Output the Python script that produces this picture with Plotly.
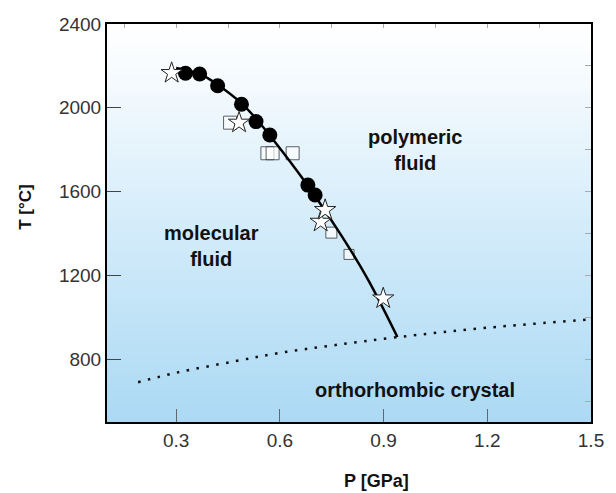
import plotly.graph_objects as go

# --- data ---
curve_P = [0.30, 0.37, 0.42, 0.49, 0.53, 0.57, 0.68, 0.78, 0.855, 0.94]
curve_T = [2190, 2160, 2110, 2020, 1950, 1870, 1630, 1385, 1180, 906]

boundary_P = [0.19, 0.30, 0.47, 0.60, 0.75, 0.94, 1.20, 1.50]
boundary_T = [690, 735, 790, 830, 865, 905, 950, 990]

circles_P = [0.327, 0.368, 0.420, 0.489, 0.531, 0.571, 0.681, 0.702]
circles_T = [2165, 2161, 2105, 2017, 1934, 1870, 1631, 1584]

squares_P = [0.456, 0.564, 0.579, 0.637, 0.749, 0.800]
squares_T = [1929, 1783, 1783, 1783, 1404, 1300]
squares_S = [13, 13, 13, 13, 11, 10]

stars_P = [0.287, 0.482, 0.718, 0.731, 0.899]
stars_T = [2166, 1929, 1456, 1512, 1090]

x_ticks = [0.3, 0.6, 0.9, 1.2, 1.5]
y_ticks = [800, 1200, 1600, 2000, 2400]
x_range = [0.1, 1.5]
y_range = [500, 2400]

FONT = "Liberation Sans"

fig = go.Figure()

# background gradient
fig.add_trace(go.Heatmap(
    x=x_range, y=y_range, z=[[0, 0], [1, 1]], zsmooth="best",
    colorscale=[[0, "#abd9f4"], [0.5, "#d4ecfa"], [0.88, "#f7fbfe"], [1, "#ffffff"]],
    showscale=False, hoverinfo="skip"))

fig.add_trace(go.Scatter(x=boundary_P, y=boundary_T, mode="lines",
                         line=dict(color="#111", width=2.5, dash="2.5px,7.5px", shape="spline"),
                         hoverinfo="skip"))
fig.add_trace(go.Scatter(x=squares_P, y=squares_T, mode="markers",
                         marker=dict(symbol="square", size=squares_S, color="white",
                                     line=dict(color="#222", width=1))))
fig.add_trace(go.Scatter(x=curve_P, y=curve_T, mode="lines",
                         line=dict(color="black", width=2.5, shape="spline")))
fig.add_trace(go.Scatter(x=circles_P, y=circles_T, mode="markers",
                         marker=dict(symbol="circle", size=15, color="black")))
fig.add_trace(go.Scatter(x=stars_P, y=stars_T, mode="markers",
                         marker=dict(symbol="star", size=16, color="white",
                                     line=dict(color="#222", width=1))))

# minor ticks on top and right
fig.add_trace(go.Scatter(x=[None], y=[None], xaxis="x2", yaxis="y2", showlegend=False))

ann_font = dict(family=FONT, size=20, color="#111")
annotations = [
    dict(x=0.99, y=1798, text="<b>polymeric<br>fluid</b>", showarrow=False, font=ann_font,
         xanchor="center", yanchor="middle"),
    dict(x=0.402, y=1340, text="<b>molecular<br>fluid</b>", showarrow=False, font=ann_font,
         xanchor="center", yanchor="middle"),
    dict(x=0.99, y=653, text="<b>orthorhombic crystal</b>", showarrow=False, font=ann_font,
         xanchor="center", yanchor="middle"),
    dict(x=0.556, y=-0.148, xref="paper", yref="paper", text="<b>P [GPa]</b>",
         xanchor="center", yanchor="middle",
         showarrow=False, font=dict(family=FONT, size=18, color="#111")),
    dict(x=-0.17, y=0.54, xref="paper", yref="paper", text="<b>T [°C]</b>", textangle=-90,
         xanchor="center", yanchor="middle",
         showarrow=False, font=dict(family=FONT, size=17, color="#111")),
]

fig.update_layout(
    width=616, height=493,
    margin=dict(l=107, r=16, t=24, b=71),
    paper_bgcolor="white", plot_bgcolor="white",
    showlegend=False,
    annotations=annotations,
    xaxis=dict(range=x_range, tickvals=x_ticks, ticktext=["0.3", "0.6", "0.9", "1.2", "1.5"],
               ticks="inside", ticklen=13, tickcolor="#666", tickwidth=1,
               showline=True, linecolor="black", linewidth=2, mirror=True,
               showgrid=False, zeroline=False,
               tickfont=dict(family=FONT, size=19, color="#333")),
    yaxis=dict(range=y_range, tickvals=y_ticks,
               ticks="inside", ticklen=14, tickcolor="#444", tickwidth=1,
               showline=True, linecolor="black", linewidth=2, mirror=True,
               showgrid=False, zeroline=False,
               tickfont=dict(family=FONT, size=19, color="#333")),
    xaxis2=dict(overlaying="x", side="top", range=x_range, dtick=0.15, tick0=0.0,
                ticks="inside", ticklen=4, tickcolor="#aaa", showticklabels=False,
                showgrid=False, zeroline=False, showline=False),
    yaxis2=dict(overlaying="y", side="right", range=y_range, dtick=200, tick0=0,
                ticks="inside", ticklen=6, tickcolor="#aaa", showticklabels=False,
                showgrid=False, zeroline=False, showline=False),
)

# remove the browser's default 8px body margin so the figure sits at (0, 0)
fig.write_html("out.html", config={"displayModeBar": False},
               post_script="document.body.style.margin='0px';")
